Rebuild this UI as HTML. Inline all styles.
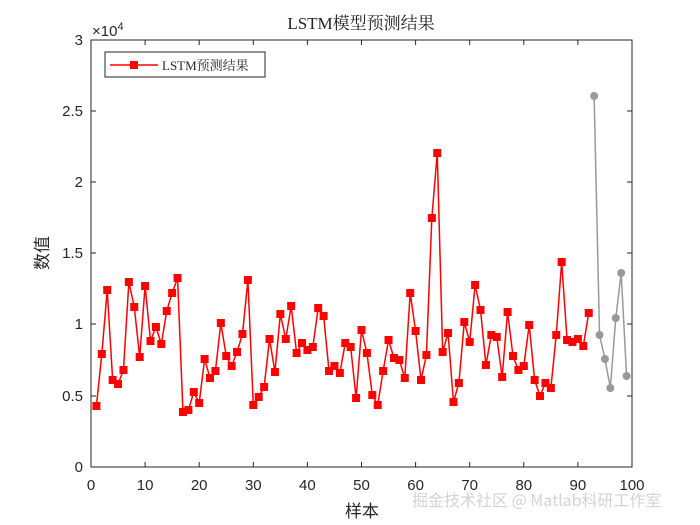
<!DOCTYPE html>
<html><head><meta charset="utf-8"><style>
body{margin:0;background:#fff;width:700px;height:525px;overflow:hidden}
svg{display:block}
</style></head><body>
<svg id="s" width="700" height="525" xmlns="http://www.w3.org/2000/svg" font-family="Liberation Sans, Noto Sans CJK SC, sans-serif">
<rect x="0" y="0" width="700" height="525" fill="#fff"/>
<text x="361" y="29" font-size="17" text-anchor="middle" font-family="Liberation Serif, Noto Serif CJK SC, serif" fill="#222">LSTM模型预测结果</text>
<g id="ticks" stroke="#262626" stroke-width="1"></g>
<rect x="91" y="40" width="541" height="427" fill="none" stroke="#262626" stroke-width="1"/>
<g font-size="15" fill="#262626" text-anchor="end">
<text x="83" y="472">0</text><text x="83" y="401">0.5</text><text x="83" y="329">1</text><text x="83" y="258">1.5</text><text x="83" y="187">2</text><text x="83" y="116">2.5</text><text x="83" y="45">3</text>
</g>
<g font-size="15" fill="#262626" text-anchor="middle" id="xl"></g>
<text x="92" y="36" font-size="15" fill="#262626">×10<tspan font-size="11" dy="-6">4</tspan></text>
<text x="48" y="253" font-size="17" fill="#262626" text-anchor="middle" transform="rotate(-90 48 253)" font-family="Noto Sans CJK SC, sans-serif">数值</text>
<text x="362" y="517" font-size="17" fill="#262626" text-anchor="middle" font-family="Noto Sans CJK SC, sans-serif">样本</text>
<polyline id="gray" fill="none" stroke="#999" stroke-width="1.5"/>
<g id="gm" fill="#999"></g>
<polyline id="red" fill="none" stroke="#f00" stroke-width="1.5"/>
<g id="rm" fill="#f00"></g>
<rect x="105" y="52" width="160" height="25" fill="#fff" stroke="#262626" stroke-width="1"/>
<line x1="110" y1="65" x2="158" y2="65" stroke="#f00" stroke-width="1.5"/>
<rect x="130" y="61" width="8" height="8" fill="#f00"/>
<text x="162" y="70" font-size="13" fill="#262626" font-family="Liberation Serif, Noto Serif CJK SC, serif">LSTM预测结果</text>
<text x="412" y="506" font-size="16" fill="#ccc" opacity="0.85" font-family="Noto Sans CJK SC, sans-serif">掘金技术社区 @ Matlab科研工作室</text>
</svg>
<script>
var ns="http://www.w3.org/2000/svg";
var r=[406,354,290,380,384,370,282,307,357,286,341,327,344,311,293,278,412,410,392,403,359,378,371,323,356,366,352,334,280,405,397,387,339,372,314,339,306,353,343,350,347,308,316,371,366,373,343,347,398,330,353,395,405,371,340,358,360,378,293,331,380,355,218,153,352,333,402,383,322,342,285,310,365,335,337,377,312,356,370,366,325,380,396,383,388,335,262,340,342,339,346,313];
var g=[96,335,359,388,318,273,376];
function X(i){return 91+5.41*i;}
var rp=[],rm=document.getElementById("rm");
r.forEach(function(y,k){var x=X(k+1);rp.push(x+","+y);var e=document.createElementNS(ns,"rect");e.setAttribute("x",x-4);e.setAttribute("y",y-4);e.setAttribute("width",8);e.setAttribute("height",8);rm.appendChild(e);});
document.getElementById("red").setAttribute("points",rp.join(" "));
var gp=[],gm=document.getElementById("gm");
g.forEach(function(y,k){var x=X(k+93);gp.push(x+","+y);var e=document.createElementNS(ns,"circle");e.setAttribute("cx",x);e.setAttribute("cy",y);e.setAttribute("r",4);gm.appendChild(e);});
document.getElementById("gray").setAttribute("points",gp.join(" "));
var t=document.getElementById("ticks"),xl=document.getElementById("xl");
for(var i=0;i<=10;i++){var x=91+54.1*i;
var l=document.createElementNS(ns,"line");l.setAttribute("x1",x);l.setAttribute("x2",x);l.setAttribute("y1",467);l.setAttribute("y2",462);t.appendChild(l);
l=document.createElementNS(ns,"line");l.setAttribute("x1",x);l.setAttribute("x2",x);l.setAttribute("y1",40);l.setAttribute("y2",45);t.appendChild(l);
var tx=document.createElementNS(ns,"text");tx.setAttribute("x",x);tx.setAttribute("y",490);tx.textContent=(i*10);xl.appendChild(tx);}
[467,396,324,253,182,111,40].forEach(function(y){var l=document.createElementNS(ns,"line");l.setAttribute("x1",91);l.setAttribute("x2",96);l.setAttribute("y1",y);l.setAttribute("y2",y);t.appendChild(l);
l=document.createElementNS(ns,"line");l.setAttribute("x1",627);l.setAttribute("x2",632);l.setAttribute("y1",y);l.setAttribute("y2",y);t.appendChild(l);});
</script>
</body></html>
